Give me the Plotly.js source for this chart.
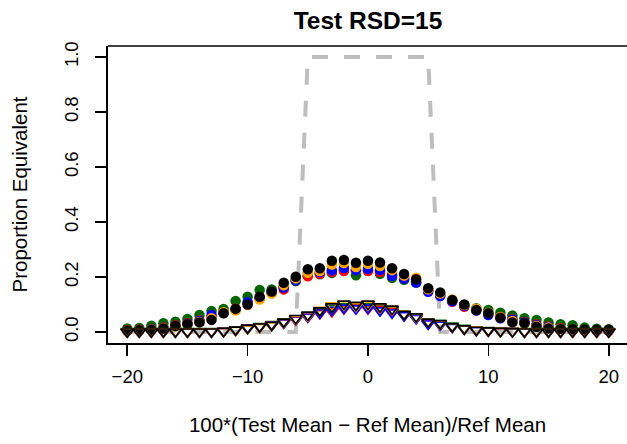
<!DOCTYPE html>
<html>
<head>
<meta charset="utf-8">
<script src="https://cdn.plot.ly/plotly-3.0.1.min.js"></script>
<style>html,body{margin:0;padding:0;background:#fff;}#chart{width:627px;height:444px;}</style>
</head>
<body>
<div id="chart"></div>
<script>
// Difference in means (x) shared by all series
var xVals = [-20,-19,-18,-17,-16,-15,-14,-13,-12,-11,-10,-9,-8,-7,-6,-5,-4,-3,-2,-1,0,1,2,3,4,5,6,7,8,9,10,11,12,13,14,15,16,17,18,19,20];

// Equivalence window (dashed reference)
var windowY = [0,0,0,0,0,0,0,0,0,0,0,0,0,0,0,1,1,1,1,1,1,1,1,1,1,1,0,0,0,0,0,0,0,0,0,0,0,0,0,0,0];

// Filled-circle series
var circOrange = [0.004,0.006,0.009,0.014,0.020,0.027,0.036,0.050,0.072,0.078,0.098,0.118,0.140,0.170,0.195,0.215,0.222,0.245,0.251,0.236,0.248,0.240,0.225,0.205,0.197,0.155,0.140,0.118,0.098,0.085,0.070,0.055,0.040,0.030,0.022,0.016,0.012,0.009,0.008,0.007,0.006];
var circRed    = [0.006,0.008,0.011,0.016,0.025,0.032,0.042,0.055,0.070,0.085,0.105,0.122,0.142,0.155,0.190,0.203,0.212,0.218,0.222,0.228,0.222,0.218,0.208,0.200,0.182,0.150,0.135,0.110,0.092,0.080,0.066,0.055,0.046,0.036,0.027,0.020,0.014,0.010,0.008,0.006,0.005];
var circBlue   = [0.005,0.007,0.010,0.015,0.022,0.030,0.040,0.062,0.070,0.082,0.108,0.125,0.145,0.162,0.188,0.215,0.218,0.224,0.233,0.225,0.230,0.225,0.204,0.194,0.180,0.146,0.131,0.112,0.095,0.078,0.062,0.050,0.045,0.035,0.025,0.018,0.012,0.009,0.007,0.005,0.004];
var circGreen  = [0.013,0.015,0.023,0.032,0.037,0.047,0.062,0.076,0.084,0.113,0.128,0.153,0.155,0.165,0.185,0.205,0.210,0.215,0.224,0.206,0.224,0.212,0.197,0.190,0.180,0.150,0.135,0.115,0.098,0.086,0.080,0.070,0.060,0.050,0.044,0.035,0.028,0.025,0.016,0.012,0.010];
var circBlack  = [0.005,0.006,0.008,0.013,0.022,0.028,0.035,0.044,0.068,0.084,0.100,0.128,0.147,0.179,0.201,0.228,0.232,0.259,0.262,0.252,0.259,0.253,0.232,0.211,0.192,0.159,0.144,0.116,0.100,0.080,0.068,0.052,0.035,0.032,0.019,0.013,0.011,0.010,0.009,0.008,0.008];

// Open down-triangle series
var triOrange = [0.001,0.001,0.001,0.001,0.001,0.001,0.001,0.001,0.003,0.007,0.013,0.018,0.024,0.036,0.048,0.060,0.080,0.096,0.100,0.094,0.099,0.090,0.082,0.066,0.054,0.038,0.030,0.020,0.012,0.008,0.005,0.003,0.002,0.001,0.001,0.001,0.001,0.001,0.001,0.001,0.001];
var triRed    = [0.001,0.001,0.001,0.001,0.001,0.001,0.001,0.001,0.003,0.008,0.014,0.020,0.027,0.033,0.045,0.055,0.068,0.075,0.085,0.088,0.085,0.082,0.075,0.062,0.052,0.034,0.028,0.019,0.012,0.008,0.005,0.003,0.002,0.001,0.001,0.001,0.001,0.001,0.001,0.001,0.001];
var triBlue   = [0.001,0.001,0.001,0.001,0.001,0.001,0.001,0.001,0.004,0.008,0.015,0.020,0.026,0.034,0.046,0.056,0.070,0.080,0.088,0.085,0.088,0.078,0.070,0.060,0.050,0.030,0.026,0.018,0.011,0.007,0.005,0.003,0.002,0.001,0.001,0.001,0.001,0.001,0.001,0.001,0.001];
var triGreen  = [0.002,0.002,0.002,0.002,0.002,0.002,0.002,0.002,0.004,0.009,0.016,0.021,0.028,0.038,0.048,0.060,0.074,0.086,0.092,0.090,0.092,0.086,0.078,0.064,0.054,0.036,0.032,0.022,0.014,0.009,0.006,0.004,0.003,0.002,0.002,0.002,0.002,0.002,0.002,0.002,0.002];
var triBlack  = [0.001,0.001,0.001,0.001,0.001,0.001,0.001,0.001,0.003,0.008,0.014,0.019,0.025,0.037,0.050,0.062,0.078,0.092,0.102,0.098,0.102,0.092,0.084,0.065,0.056,0.037,0.031,0.020,0.012,0.007,0.005,0.003,0.002,0.001,0.001,0.001,0.001,0.001,0.001,0.001,0.001];

var xTicks = [-20,-10,0,10,20];
var xTickText = ['\u221220','\u221210','0','10','20'];
var yTicks = [0,0.2,0.4,0.6,0.8,1.0];
var yTickText = ['0.0','0.2','0.4','0.6','0.8','1.0'];

// drawing order: green, red, blue, orange, black (last on top)
var colors = ['#006400','#FF0000','#0000FF','#FFA500','#000000'];
var circSets = [circGreen, circRed, circBlue, circOrange, circBlack];
var triSets = [triGreen, triRed, triBlue, triOrange, triBlack];

var traces = [{
  x: xVals, y: windowY, type: 'scatter', mode: 'lines',
  line: {color: '#BEBEBE', width: 4, dash: '16px,16px'},
  hoverinfo: 'skip', showlegend: false
}];
for (var i = 0; i < colors.length; i++) {
  traces.push({
    x: xVals, y: circSets[i], type: 'scatter', mode: 'markers',
    marker: {symbol: 'circle', size: 10.5, color: colors[i], line: {width: 0}},
    showlegend: false
  });
}
for (var j = 0; j < colors.length; j++) {
  traces.push({
    x: xVals, y: triSets[j], type: 'scatter', mode: 'markers',
    marker: {symbol: 'triangle-down-open', size: 11, color: colors[j], line: {width: 1.7, color: colors[j]}},
    showlegend: false
  });
}

var fontFam = '"Liberation Sans", Arial, Helvetica, sans-serif';
var layout = {
  width: 627, height: 444,
  margin: {l: 108, r: 0, t: 46, b: 101, pad: 0},
  paper_bgcolor: '#ffffff', plot_bgcolor: '#ffffff',
  font: {family: fontFam, size: 18, color: '#000'},
  showlegend: false,
  title: {text: '<b>Test RSD=15</b>', font: {family: fontFam, size: 24.5, color: '#000'},
          x: 368/627, xref: 'container', xanchor: 'center', y: 1 - 20/444, yref: 'container', yanchor: 'middle'},
  xaxis: {
    range: [-21.6, 21.52], showgrid: false, zeroline: false,
    showline: true, linecolor: '#000', linewidth: 1.6,
    ticks: 'outside', ticklen: 11, tickwidth: 1.6, tickcolor: '#000',
    tickmode: 'array', tickvals: xTicks, ticktext: xTickText,
    ticklabelstandoff: 5,
    tickfont: {family: fontFam, size: 18.5, color: '#000'},
    title: {text: '100*(Test Mean \u2212 Ref Mean)/Ref Mean', font: {family: fontFam, size: 20.5, color: '#000'}, standoff: 32}
  },
  yaxis: {
    range: [-0.04, 1.04], showgrid: false, zeroline: false,
    showline: true, linecolor: '#000', linewidth: 1.6,
    ticks: 'outside', ticklen: 11, tickwidth: 1.6, tickcolor: '#000',
    tickmode: 'array', tickvals: yTicks, ticktext: yTickText, tickangle: -90,
    ticklabelstandoff: 10,
    tickfont: {family: fontFam, size: 18.5, color: '#000'},
    title: {text: 'Proportion Equivalent', font: {family: fontFam, size: 20.5, color: '#000'}, standoff: 28}
  },
  shapes: [{type: 'line', xref: 'paper', yref: 'paper', x0: 0, x1: 1, y0: 1, y1: 1, line: {color: '#000', width: 1.6}}]
};

Plotly.newPlot('chart', traces, layout, {staticPlot: true, displayModeBar: false});
</script>
</body>
</html>
